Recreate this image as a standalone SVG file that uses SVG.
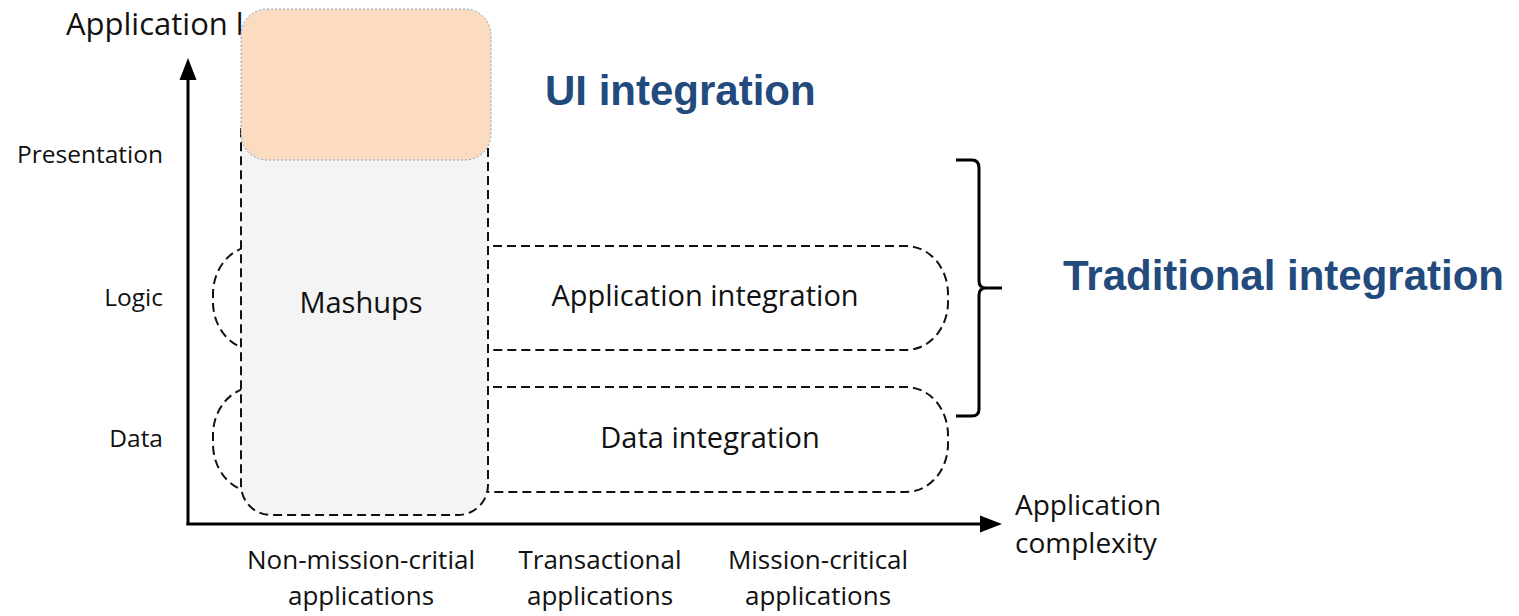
<svg xmlns="http://www.w3.org/2000/svg" width="1519" height="616" viewBox="0 0 1519 616">
<style>
  .lbl{font-family:"Open Sans","Liberation Sans",sans-serif;fill:#111}
  .dash{fill:none;stroke:#111;stroke-width:2;stroke-dasharray:9 5}
  .big{font-family:"Liberation Sans",Arial,sans-serif;font-weight:bold;fill:#224a7c;font-size:42px}
  .axis{stroke:#000;stroke-width:3;fill:none}
</style>
<rect width="1519" height="616" fill="#fff"/>
<g id="axes">
  <line class="axis" x1="188" y1="78" x2="188" y2="525"/>
  <polygon points="188,58 179.5,80 196.5,80" fill="#000"/>
  <line class="axis" x1="186.5" y1="524" x2="982" y2="524"/>
  <polygon points="1002,524 980,515.5 980,532.5" fill="#000"/>
</g>
<text class="lbl" x="66" y="35" font-size="31">Application level</text>
<g id="y-labels" class="lbl" font-size="24.5" text-anchor="end">
  <text x="163" y="163">Presentation</text>
  <text x="163" y="306">Logic</text>
  <text x="163" y="447">Data</text>
</g>
<g id="app-integration">
  <rect class="dash" x="213" y="246" width="735" height="104" rx="42" ry="48"/>
</g>
<g id="data-integration">
  <rect class="dash" x="213" y="387" width="735" height="105" rx="42" ry="48"/>
</g>
<g id="mashups">
  <rect x="241" y="100" width="247" height="415" rx="30" fill="#f4f4f4" stroke="#111" stroke-width="2" stroke-dasharray="9 5"/>
  <text class="lbl" x="361" y="313" font-size="29" text-anchor="middle">Mashups</text>
</g>
<g id="ui-box">
  <rect x="241" y="9" width="250" height="151" rx="26" fill="#fbdcc1" stroke="#7f9ec6" stroke-width="1" stroke-dasharray="2 2"/>
</g>
<text class="lbl" x="705" y="306" font-size="29" text-anchor="middle">Application integration</text>
<text class="lbl" x="710" y="448" font-size="29" text-anchor="middle">Data integration</text>
<g id="brace">
  <path d="M956,160 L972,160 Q979,160 979,168 L979,281 Q979,288 986,288 L1002,288 M986,288 Q979,288 979,295 L979,409 Q979,416 972,416 L956,416" fill="none" stroke="#000" stroke-width="3"/>
</g>
<text class="big" x="545" y="105">UI integration</text>
<text class="big" x="1063" y="290">Traditional integration</text>
<g class="lbl" font-size="28">
  <text x="1015" y="515">Application</text>
  <text x="1015" y="553">complexity</text>
</g>
<g class="lbl" font-size="26" text-anchor="middle">
  <text x="361" y="569">Non-mission-critial</text>
  <text x="361" y="605">applications</text>
  <text x="600" y="569">Transactional</text>
  <text x="600" y="605">applications</text>
  <text x="818" y="569">Mission-critical</text>
  <text x="818" y="605">applications</text>
</g>
</svg>
